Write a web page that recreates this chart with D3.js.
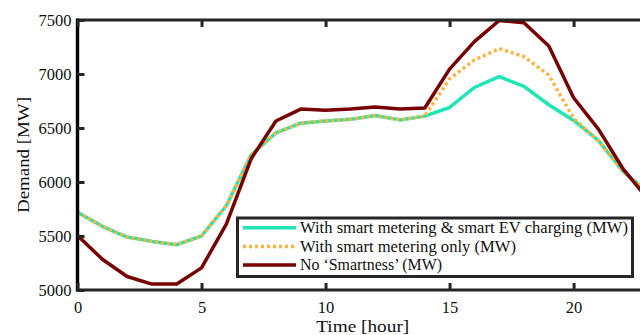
<!DOCTYPE html>
<html>
<head>
<meta charset="utf-8">
<script src="https://cdn.jsdelivr.net/npm/d3@7"></script>
<style>
  html, body { margin: 0; padding: 0; background: #fff; }
  svg { display: block; }
  text { font-family: "Liberation Serif", "DejaVu Serif", serif; fill: #111; }
</style>
</head>
<body>
<svg id="chart" width="640" height="335"></svg>
<script>
// Hourly electricity demand (MW) under three charging scenarios
const hours = d3.range(0, 24);
const smartEV = [5720, 5590, 5490, 5450, 5420, 5500, 5780, 6250, 6455, 6545, 6565, 6580, 6615, 6575, 6610,
                 6690, 6875, 6975, 6885, 6715, 6570, 6385, 6095, 5910];
const smartMeterOnly = [5720, 5590, 5490, 5450, 5420, 5500, 5780, 6250, 6455, 6545, 6565, 6580, 6615, 6575, 6610,
                        6955, 7130, 7235, 7160, 6990, 6590, 6380, 6095, 5910];
const noSmart = [5505, 5285, 5125, 5055, 5055, 5205, 5610, 6215, 6565, 6675, 6665, 6675, 6695, 6675, 6685,
                 7045, 7300, 7495, 7475, 7260, 6780, 6490, 6120, 5840];
const seriesNames = [
  "With smart metering & smart EV charging (MW)",
  "With smart metering only (MW)",
  "No \u2018Smartness\u2019 (MW)"
];
const xTicks = [0, 5, 10, 15, 20];
const yTicks = [5000, 5500, 6000, 6500, 7000, 7500];

const svg = d3.select("#chart");
const m = { left: 77.5, right: 648, top: 20, bottom: 290 };

const x = d3.scaleLinear().domain([0, 23]).range([m.left, m.right]);
const y = d3.scaleLinear().domain([5000, 7500]).range([m.bottom, m.top]);

const styles = [
  { color: "#1fe6b4", dash: null },
  { color: "#ffb33a", dash: "3,3" },
  { color: "#780000", dash: null }
];
const allSeries = [smartEV, smartMeterOnly, noSmart];

// data lines
const line = d3.line().x((d, i) => x(hours[i])).y(d => y(d));
allSeries.forEach((vals, k) => {
  svg.append("path")
    .datum(vals)
    .attr("d", line)
    .attr("fill", "none")
    .attr("stroke", styles[k].color)
    .attr("stroke-width", 3.5)
    .attr("stroke-linejoin", "round")
    .attr("stroke-dasharray", styles[k].dash);
});

// box axes with inward ticks
const axisColor = "#262626";
const frame = svg.append("g");
frame.append("line").attr("x1", m.left).attr("x2", m.right).attr("y1", m.top).attr("y2", m.top)
  .attr("stroke", axisColor).attr("stroke-width", 3.2);
frame.append("line").attr("x1", m.left).attr("x2", m.right).attr("y1", m.bottom).attr("y2", m.bottom)
  .attr("stroke", axisColor).attr("stroke-width", 3.2);
frame.append("line").attr("x1", m.left).attr("x2", m.left).attr("y1", m.top - 1.6).attr("y2", m.bottom + 1.6)
  .attr("stroke", "#000").attr("stroke-width", 3.4);

const xAxis = svg.append("g").attr("transform", `translate(0,${m.bottom})`)
  .call(d3.axisBottom(x).tickValues(xTicks).tickSize(-7).tickPadding(11).tickFormat(d3.format("d")));
const xTop = svg.append("g").attr("transform", `translate(0,${m.top})`)
  .call(d3.axisTop(x).tickValues(xTicks).tickSize(-7).tickFormat(""));
const yAxis = svg.append("g").attr("transform", `translate(${m.left},0)`)
  .call(d3.axisLeft(y).tickValues(yTicks).tickSize(-7).tickPadding(6).tickFormat(d3.format("d")));

[xAxis, xTop, yAxis].forEach(g => {
  g.select(".domain").remove();
  g.selectAll(".tick line").attr("stroke", axisColor).attr("stroke-width", 3);
  g.selectAll(".tick text").style("font-family", "'Liberation Serif', serif")
    .style("font-size", "16.5px").attr("fill", "#111");
});

// axis titles
svg.append("text").attr("x", (m.left + m.right) / 2).attr("y", 332)
  .attr("text-anchor", "middle").style("font-size", "17.5px")
  .attr("textLength", 93).attr("lengthAdjust", "spacingAndGlyphs").text("Time [hour]");
svg.append("text").attr("transform", `translate(29,${(m.top + m.bottom) / 2}) rotate(-90)`)
  .attr("text-anchor", "middle").style("font-size", "17.5px")
  .attr("textLength", 116).attr("lengthAdjust", "spacingAndGlyphs").text("Demand [MW]");

// legend
const lg = svg.append("g");
lg.append("rect").attr("x", 237.5).attr("y", 218).attr("width", 395).attr("height", 58.5)
  .attr("fill", "#fff").attr("stroke", axisColor).attr("stroke-width", 3);
const rowY = [227.7, 246.5, 265];
const textWidths = [328, 216, 142];
seriesNames.forEach((name, k) => {
  lg.append("line").attr("x1", 243).attr("x2", 296).attr("y1", rowY[k]).attr("y2", rowY[k])
    .attr("stroke", styles[k].color).attr("stroke-width", 3.5)
    .attr("stroke-dasharray", styles[k].dash);
  lg.append("text").attr("x", 300).attr("y", rowY[k] + 5)
    .style("font-size", "16.5px")
    .attr("textLength", textWidths[k]).attr("lengthAdjust", "spacingAndGlyphs")
    .text(name);
});
</script>
</body>
</html>
